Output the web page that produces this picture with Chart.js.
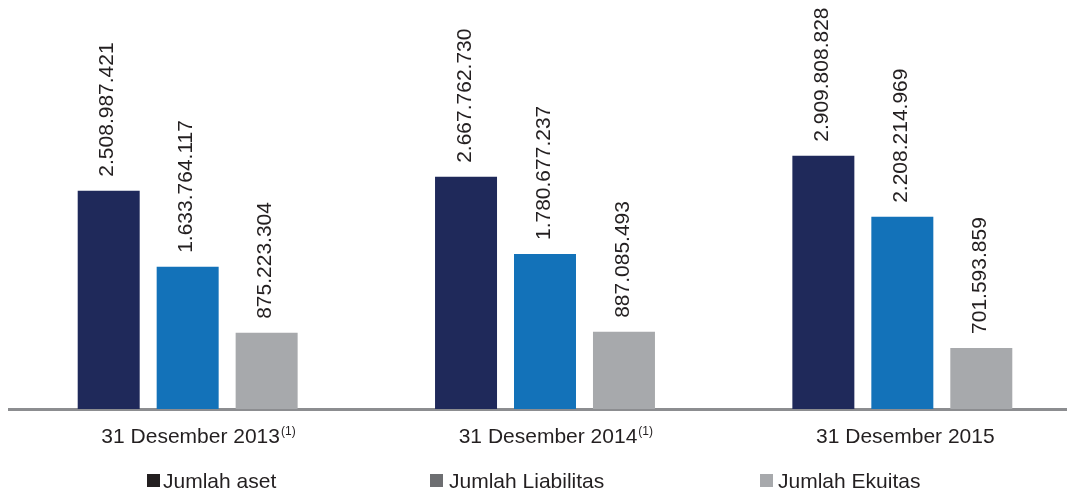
<!DOCTYPE html>
<html>
<head>
<meta charset="utf-8">
<script src="https://cdn.jsdelivr.net/npm/chart.js@4.4.0/dist/chart.umd.min.js"></script>
<style>
html, body { margin: 0; padding: 0; background: #ffffff; overflow: hidden; width: 1067px; height: 492px; }
#wrap { position: absolute; left: 0; top: 0; width: 1082px; height: 492px; }
canvas { display: block; }
</style>
</head>
<body>
<div id="wrap"><canvas id="c" width="1082" height="492"></canvas></div>
<script>
// ---- data ----
const categories = ['31 Desember 2013', '31 Desember 2014', '31 Desember 2015'];
const categoryNotes = ['(1)', '(1)', ''];
const seriesNames = ['Jumlah aset', 'Jumlah Liabilitas', 'Jumlah Ekuitas'];
const jumlahAset = [2508987421, 2667762730, 2909808828];
const jumlahLiabilitas = [1633764117, 1780677237, 2208214969];
const jumlahEkuitas = [875223304, 887085493, 701593859];

// ---- styles ----
const barColors = ['#1f295a', '#1372b9', '#a7a9ac'];
const legendColors = ['#231f20', '#6d6e71', '#a7a9ac'];
const textColor = '#231f20';
const FONT = '"Liberation Sans", Arial, Helvetica, sans-serif';

function fmt(v) {
  return String(v).replace(/\B(?=(\d{3})+(?!\d))/g, '.');
}

const valueLabels = {
  id: 'valueLabels',
  afterDatasetsDraw(chart) {
    const ctx = chart.ctx;
    chart.data.datasets.forEach((ds, di) => {
      const meta = chart.getDatasetMeta(di);
      meta.data.forEach((bar, i) => {
        ctx.save();
        ctx.translate(bar.x - 1, bar.y - 14);
        ctx.rotate(-Math.PI / 2);
        ctx.textAlign = 'left';
        ctx.textBaseline = 'middle';
        ctx.font = '21px ' + FONT;
        ctx.fillStyle = textColor;
        ctx.fillText(fmt(ds.data[i]), 0, 0);
        ctx.restore();
      });
    });
  }
};

const categoryLabels = {
  id: 'categoryLabels',
  afterDraw(chart) {
    const ctx = chart.ctx;
    const xs = chart.scales.x;
    ctx.save();
    ctx.fillStyle = textColor;
    ctx.textBaseline = 'alphabetic';
    ctx.textAlign = 'left';
    chart.data.labels.forEach((lab, i) => {
      const cx = xs.getPixelForTick(i) + 3;
      ctx.font = '21px ' + FONT;
      const w1 = ctx.measureText(lab).width;
      const x0 = cx - w1 / 2;
      ctx.fillText(lab, x0, 443);
      if (categoryNotes[i]) {
        ctx.font = '12px ' + FONT;
        ctx.fillText(categoryNotes[i], x0 + w1 + 1, 435);
      }
    });
    ctx.restore();
  }
};

const legendBoxX = [147, 430, 760];
const legendTextX = [163, 449, 778];
const customLegend = {
  id: 'customLegend',
  afterDraw(chart) {
    const ctx = chart.ctx;
    ctx.save();
    seriesNames.forEach((name, i) => {
      ctx.fillStyle = legendColors[i];
      ctx.fillRect(legendBoxX[i], 474, 13, 13);
      ctx.fillStyle = textColor;
      ctx.font = '21px ' + FONT;
      ctx.textBaseline = 'alphabetic';
      ctx.textAlign = 'left';
      ctx.fillText(name, legendTextX[i], 488);
    });
    ctx.restore();
  }
};

new Chart(document.getElementById('c'), {
  type: 'bar',
  data: {
    labels: categories,
    datasets: [
      { label: seriesNames[0], data: jumlahAset, backgroundColor: barColors[0] },
      { label: seriesNames[1], data: jumlahLiabilitas, backgroundColor: barColors[1] },
      { label: seriesNames[2], data: jumlahEkuitas, backgroundColor: barColors[2] }
    ]
  },
  options: {
    responsive: false,
    animation: false,
    devicePixelRatio: 1,
    categoryPercentage: 0.663,
    barPercentage: 0.785,
    layout: { padding: { left: 9, right: 1, top: 0, bottom: 83 } },
    plugins: { legend: { display: false }, tooltip: { enabled: false } },
    scales: {
      x: {
        grid: { display: false, drawTicks: false },
        border: { display: true, color: '#8c8d90', width: 3 },
        ticks: { display: false }
      },
      y: { display: false, min: 0, max: 4700000000 }
    }
  },
  plugins: [valueLabels, categoryLabels, customLegend]
});
</script>
</body>
</html>
